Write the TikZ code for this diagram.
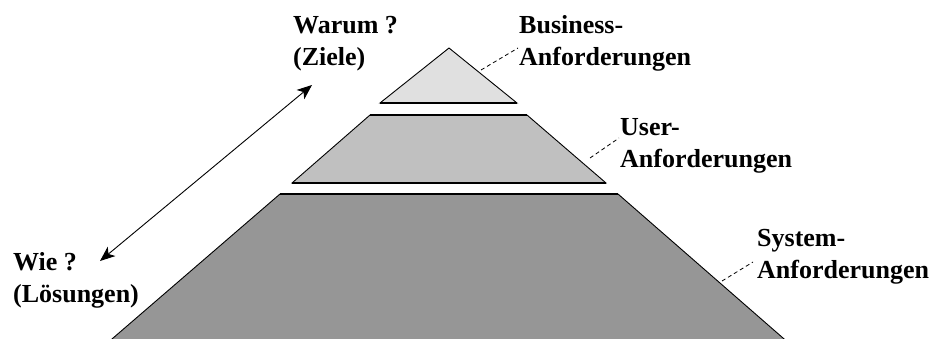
\documentclass[tikz,border=0pt]{standalone}
\usepackage{fontspec}
\setmainfont{Liberation Serif}
\usetikzlibrary{arrows.meta}
\definecolor{lvlA}{RGB}{224,224,224}
\definecolor{lvlB}{RGB}{192,192,192}
\definecolor{lvlC}{RGB}{150,150,150}
\tikzset{
  level/.style={draw=black, line width=0.9pt, line join=miter},
  topedge/.style={draw=black, line width=1.6pt},
  lbl/.style={anchor=base west, inner sep=0pt, align=left,
     font=\fontsize{26}{32}\selectfont\bfseries},
  leader/.style={draw=black, line width=0.8pt, dash pattern=on 4pt off 3pt},
  tip/.tip={Stealth[length=15pt,width=12pt,inset=4pt]},
  dbl/.style={draw=black, line width=0.9pt, tip-tip}
}
\begin{document}
\begin{tikzpicture}[x=1pt,y=-1pt]
\useasboundingbox (0,0) rectangle (934,338);
\begin{scope}
\clip (0,0) rectangle (934,338);
% bottom level
\coordinate (c1) at (280,194);
\coordinate (c2) at (618,194);
\coordinate (c3) at (791,345);
\coordinate (c4) at (105,345);
\path[level, fill=lvlC] (c1) -- (c2) -- (c3) -- (c4) -- cycle;
\path[topedge] (c1) -- (c2);
% middle level
\coordinate (b1) at (370,115);
\coordinate (b2) at (527,115);
\coordinate (b3) at (606,183);
\coordinate (b4) at (292,183);
\path[level, fill=lvlB] (b1) -- (b2) -- (b3) -- (b4) -- cycle;
\path[topedge] (b1) -- (b2);
\path[topedge] (b4) -- (b3);
% top level
\coordinate (a1) at (449,48);
\coordinate (a2) at (517,103);
\coordinate (a3) at (380,103);
\path[level, fill=lvlA] (a1) -- (a2) -- (a3) -- cycle;
\path[topedge] (a3) -- (a2);
\end{scope}
% labels (anchored at the baseline of the last line)
\node[lbl] (bus) at (519,65) {Business-\\Anforderungen};
\node[lbl] (usr) at (620,167) {User-\\Anforderungen};
\node[lbl] (sys) at (757,278) {System-\\Anforderungen};
\node[lbl] (why) at (293,65) {Warum ?\\(Ziele)};
\node[lbl] (how) at (13,302) {Wie ?\\(Lösungen)};
% leader lines
\coordinate (la) at (481,70);
\coordinate (lae) at (518,48);
\coordinate (lb) at (590,158);
\coordinate (lbe) at (619,138);
\coordinate (lc) at (722,281);
\coordinate (lce) at (753,262);
\draw[leader] (la) -- (lae);
\draw[leader] (lb) -- (lbe);
\draw[leader] (lc) -- (lce);
% double arrow
\coordinate (arl) at (100,261);
\coordinate (aru) at (312,85);
\draw[dbl] (arl) -- (aru);
\end{tikzpicture}
\end{document}
